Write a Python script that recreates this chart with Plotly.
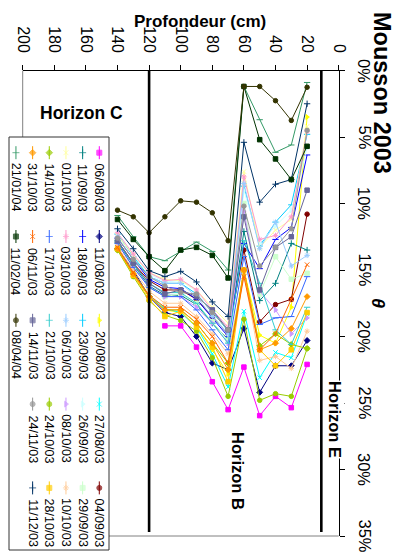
import plotly.graph_objects as go

# ---------------- data ----------------
depths = [20, 30, 40, 50, 60, 70, 80, 90, 100, 110, 120, 130, 140]

dates = ["06/08/03", "11/08/03", "20/08/03", "27/08/03", "04/09/03",
         "11/09/03", "18/09/03", "23/09/03", "26/09/03", "29/09/03",
         "01/10/03", "03/10/03", "06/10/03", "08/10/03", "10/10/03",
         "14/10/03", "17/10/03", "21/10/03", "24/10/03", "28/10/03",
         "31/10/03", "06/11/03", "14/11/03", "24/11/03", "11/12/03",
         "21/01/04", "11/02/04", "08/04/04"]

theta_060803 = [22.1, 25.35, 24.5, 25.95, 22.3, 25.5, 23.4, 20.8, 19.2, 19.2, None, None, None]
theta_110803 = [20.3, 22.2, 22.2, 24.2, 19.4, 22.5, 22.0, 20.0, 18.5, 18.2, 17.0, 15.0, 13.4]
theta_200803 = [3.5, 17.8, 20.5, 19.9, 15.0, 22.8, 21.0, 19.2, 18.2, 18.0, 17.0, 15.3, 13.4]
theta_270803 = [18.3, 21.6, 21.2, 23.1, 18.1, 23.8, 21.3, 19.3, 18.2, 17.9, 16.9, 15.2, 13.3]
theta_040903 = [10.8, 17.2, 17.6, 18.9, 13.5, 19.8, 18.5, 17.2, 16.5, 16.5, 15.8, 14.5, 12.8]
theta_110903 = [13.5, 13.0, 16.0, 17.3, 12.1, 20.2, 19.0, 17.6, 16.9, 16.9, 16.2, 14.6, 12.9]
theta_180903 = [6.35, 11.8, 12.7, 14.9, 13.0, 20.0, 18.6, 17.2, 16.4, 16.3, 15.7, 14.2, 12.6]
theta_230903 = [4.8, 10.1, 11.4, 13.2, 8.7, 19.6, 18.1, 16.8, 16.0, 16.0, 15.5, 14.0, 12.3]
theta_260903 = [5.8, 10.5, 11.7, 13.0, 9.0, 19.8, 18.3, 16.6, 15.8, 15.9, 15.3, 13.9, 12.2]
theta_290903 = [15.25, 15.7, 14.0, 16.8, 10.0, 20.3, 18.9, 17.5, 16.8, 17.0, 16.3, 14.8, 13.0]
theta_011003 = [4.2, 11.2, 12.0, 13.3, 7.6, 19.0, 17.8, 16.5, 15.8, 15.7, 15.2, 13.9, 12.4]
theta_031003 = [4.6, 11.0, 12.4, 12.7, 8.0, 19.3, 18.0, 16.5, 15.7, 15.8, 15.2, 13.8, 12.2]
theta_061003 = [13.9, 14.7, 11.4, 13.4, 8.5, 19.8, 18.5, 17.0, 16.0, 16.0, 15.5, 14.2, 12.5]
theta_081003 = [18.6, 19.8, 18.0, 16.6, 10.6, 20.5, 19.0, 17.8, 17.0, 17.0, 16.3, 14.8, 13.0]
theta_101003 = [19.6, 22.4, 21.5, 21.8, 15.3, 21.3, 19.8, 18.5, 17.5, 17.5, 16.6, 15.0, 13.2]
theta_141003 = [20.9, 20.6, 19.8, 20.7, 15.0, 22.0, 20.5, 19.0, 18.0, 18.0, 17.0, 15.3, 13.5]
theta_171003 = [15.5, 18.5, 18.6, 19.1, 14.0, 21.0, 19.5, 18.0, 17.0, 17.0, 16.3, 14.8, 13.0]
theta_211003 = [17.8, 20.6, 19.5, 16.0, 12.8, 20.5, 19.0, 17.5, 16.7, 16.7, 16.0, 14.6, 12.8]
theta_241003 = [20.9, 24.5, 24.3, 24.8, 18.7, 24.5, 21.6, 19.6, 18.8, 18.4, 17.3, 15.5, 13.5]
theta_281003 = [18.2, 21.0, 22.2, 21.0, 15.0, 23.4, 20.8, 19.3, 18.1, 18.5, 17.2, 15.4, 13.4]
theta_311003 = [17.0, 19.4, 20.5, 21.0, 15.0, 22.5, 20.5, 19.0, 18.0, 18.0, 17.0, 15.3, 13.4]
theta_061103 = [14.6, 17.2, 19.8, 21.0, 15.5, 22.0, 20.0, 18.7, 17.8, 17.8, 16.9, 15.2, 13.3]
theta_141103 = [9.0, 12.5, 13.3, 16.5, 11.0, 19.5, 18.0, 17.0, 16.5, 16.8, 16.0, 14.5, 12.8]
theta_241103 = [4.5, 11.9, 13.3, 14.7, 10.2, 19.5, 18.2, 16.8, 16.7, 16.2, 15.5, 14.2, 12.6]
theta_111203 = [2.5, 8.2, 8.55, 9.9, 5.4, 18.5, 17.4, 15.9, 15.1, 15.5, 15.05, 13.4, 11.9]
theta_210104 = [0.9, 5.6, 6.15, 3.7, 1.2, 15.0, 13.6, 12.9, 13.6, 14.3, 14.0, 12.5, 10.9]
theta_110204 = [5.7, 8.2, 6.65, 5.2, 1.2, 15.6, 13.9, 13.3, 13.5, 15.05, 14.0, 12.7, 11.2]
theta_080404 = [1.26, 3.75, 2.27, 1.2, 1.2, 12.8, 10.7, 9.9, 9.8, 11.0, 12.2, 11.0, 10.5]

series = [theta_060803, theta_110803, theta_200803, theta_270803, theta_040903,
          theta_110903, theta_180903, theta_230903, theta_260903, theta_290903,
          theta_011003, theta_031003, theta_061003, theta_081003, theta_101003,
          theta_141003, theta_171003, theta_211003, theta_241003, theta_281003,
          theta_311003, theta_061103, theta_141103, theta_241103, theta_111203,
          theta_210104, theta_110204, theta_080404]

horizon_depths = [11, 120]
horizon_theta = [0, 34.7]

depth_ticks = [0, 20, 40, 60, 80, 100, 120, 140, 160, 180, 200]
theta_ticks = [0, 5, 10, 15, 20, 25, 30, 35]
theta_labels = ["0%", "5%", "10%", "15%", "20%", "25%", "30%", "35%"]

# ---------------- styles ----------------
colors = ["#FF00FF", "#000080", "#FFFF00", "#00FFFF", "#800000",
          "#008080", "#0000FF", "#00CCFF", "#CCFFFF", "#CCFFCC",
          "#FFFF99", "#FF99CC", "#99CCFF", "#CC99FF", "#FFCC99",
          "#99CC00", "#3366FF", "#33CCCC", "#99CC00", "#FFCC00",
          "#FF9900", "#FF6600", "#666699", "#969696", "#003366",
          "#339966", "#003300", "#333300"]
symbols = ["square", "diamond", "triangle-right", "x-thin", "circle",
           "cross-thin", "line-ew", "line-ew", "triangle-right", "square",
           "x-thin", "asterisk", "asterisk", "triangle-right", "asterisk",
           "diamond", "line-ew", "line-ew", "circle", "square",
           "diamond", "x-thin", "square", "circle", "cross-thin",
           "line-ew", "square", "circle"]

W, H = 398, 554
PX_L, PX_R, PX_T, PX_B = 22.7, 338.7, 70.5, 536.0   # plot area in pixels
FONT = "Arial, Liberation Sans, sans-serif"


def px(x):
    return x / W


def py(y):
    return 1 - y / H


fig = go.Figure()

# data series
for name, vals, col, sym in zip(dates, series, colors, symbols):
    fig.add_trace(go.Scatter(
        x=depths, y=vals, mode="lines+markers", name=name,
        line=dict(color=col, width=1.0),
        marker=dict(symbol=sym, size=4.5, color=col, line=dict(color=col, width=1)),
        connectgaps=False, xaxis="x", yaxis="y", cliponaxis=False))

# horizon boundary lines
for d in horizon_depths:
    fig.add_trace(go.Scatter(x=[d, d], y=horizon_theta, mode="lines",
                             line=dict(color="black", width=2.6),
                             xaxis="x", yaxis="y", hoverinfo="skip"))

# custom rotated legend (swatches on a pixel overlay axis)
LEG_X0, LEG_DX = 99.3, -16.67
LEG_Y0, LEG_DY = 152.7, 83.8
annotations = []
for i, (name, col, sym) in enumerate(zip(dates, colors, symbols)):
    c, r = i // 5, i % 5
    cx = LEG_X0 + LEG_DX * c
    cy = LEG_Y0 + LEG_DY * r
    fig.add_trace(go.Scatter(
        x=[cx, cx, cx], y=[cy - 6.5, cy, cy + 6.5], mode="lines+markers",
        line=dict(color=col, width=1.0),
        marker=dict(symbol=sym, size=[0, 5, 0], color=col, line=dict(color=col, width=1)),
        xaxis="x2", yaxis="y2", hoverinfo="skip"))
    annotations.append(dict(x=cx, y=cy + 35, xref="x2", yref="y2", text=name,
                            textangle=90, showarrow=False,
                            font=dict(family=FONT, size=12.5, color="black"),
                            xanchor="center", yanchor="middle"))

# rotated theta tick labels, placed through the theta axis
for tv, tl in zip(theta_ticks, theta_labels):
    annotations.append(dict(x=364.5, y=tv, xref="x2", yref="y", text=tl,
                            textangle=90, showarrow=False,
                            xanchor="center", yanchor="middle",
                            font=dict(family=FONT, size=16.5, color="black")))

# titles and labels
annotations += [
    dict(x=382, y=93, xref="x2", yref="y2", text="<b>Mousson 2003</b>", textangle=90,
         showarrow=False, xanchor="center", yanchor="middle",
         font=dict(family=FONT, size=23.5, color="black")),
    dict(x=200, y=21, xref="x2", yref="y2", text="<b>Profondeur (cm)</b>",
         showarrow=False, xanchor="center", yanchor="middle",
         font=dict(family=FONT, size=17, color="black")),
    dict(x=378, y=303, xref="x2", yref="y2", text="<b><i>θ</i></b>", textangle=90,
         showarrow=False, xanchor="center", yanchor="middle",
         font=dict(family=FONT, size=18, color="black")),
    dict(x=81, y=113, xref="x2", yref="y2", text="<b>Horizon C</b>",
         showarrow=False, xanchor="center", yanchor="middle",
         font=dict(family=FONT, size=17.5, color="black")),
    dict(x=238, y=471, xref="x2", yref="y2", text="<b>Horizon B</b>", textangle=90,
         showarrow=False, xanchor="center", yanchor="middle",
         font=dict(family=FONT, size=16.5, color="black")),
    dict(x=335, y=419, xref="x2", yref="y2", text="<b>Horizon E</b>", textangle=90,
         showarrow=False, bgcolor="white", borderpad=0,
         xanchor="center", yanchor="middle",
         font=dict(family=FONT, size=16.5, color="black")),
]

shapes = [
    # gray plot-area border (left and bottom)
    dict(type="line", xref="paper", yref="paper", x0=px(PX_L), x1=px(PX_L),
         y0=py(PX_T), y1=py(PX_B), line=dict(color="#808080", width=1), layer="below"),
    dict(type="line", xref="paper", yref="paper", x0=px(PX_L), x1=px(PX_R),
         y0=py(PX_B), y1=py(PX_B), line=dict(color="#808080", width=1), layer="below"),
    # legend box
    dict(type="rect", xref="paper", yref="paper", x0=px(9), x1=px(109),
         y0=py(550), y1=py(137), line=dict(color="#333333", width=1),
         fillcolor="white", layer="below"),
]

fig.update_layout(
    width=W, height=H, margin=dict(l=0, r=0, t=0, b=0),
    paper_bgcolor="white", plot_bgcolor="rgba(0,0,0,0)",
    showlegend=False, annotations=annotations, shapes=shapes,
    xaxis=dict(domain=[px(PX_L), px(PX_R)], range=[200, 0], side="top", anchor="y",
               tickvals=depth_ticks, tickangle=90, ticks="outside", ticklen=5,
               tickcolor="black", showline=True, linecolor="black", linewidth=1,
               showgrid=False, zeroline=False, automargin=False,
               ticklabelstandoff=6,
               tickfont=dict(family=FONT, size=16, color="black")),
    yaxis=dict(domain=[py(PX_B), py(PX_T)], range=[35, 0], side="right", anchor="x",
               tickvals=theta_ticks, showticklabels=False, ticks="outside",
               ticklen=5, tickcolor="black", showline=True, linecolor="black",
               linewidth=1, showgrid=False, zeroline=False, automargin=False),
    xaxis2=dict(domain=[0, 1], range=[0, W], anchor="y2", visible=False, fixedrange=True),
    yaxis2=dict(domain=[0, 1], range=[H, 0], anchor="x2", visible=False, fixedrange=True),
)

fig.write_html(
    "out.html",
    config={"displayModeBar": False},
    post_script="document.body.style.margin='0';document.body.style.overflow='hidden';",
)
